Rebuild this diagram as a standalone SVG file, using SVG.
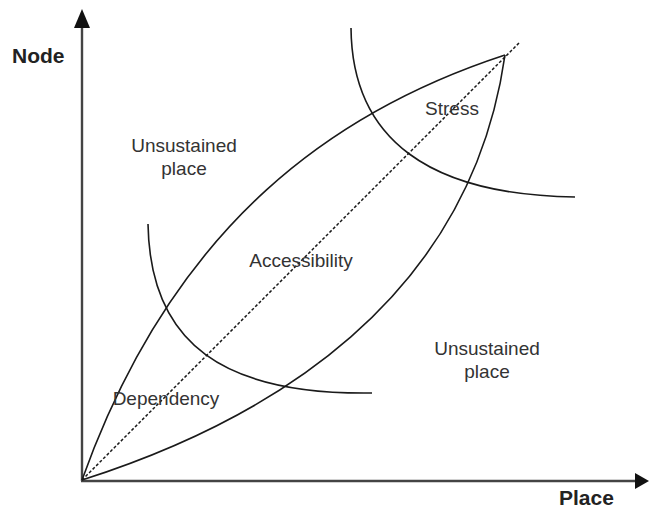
<svg xmlns="http://www.w3.org/2000/svg" width="649" height="511" viewBox="0 0 649 511">
  <style>
    .curve { fill: none; stroke: #1a1a1a; stroke-width: 1.6; }
    .dash { fill: none; stroke: #1a1a1a; stroke-width: 1.5; stroke-dasharray: 3 2; }
    .axis { fill: none; stroke: #444; stroke-width: 2.4; }
    .head { fill: #111; }
    .lbl { font-family: "Liberation Sans", Arial, sans-serif; font-size: 19px; fill: #333; text-anchor: middle; }
    .ax { font-family: "Liberation Sans", Arial, sans-serif; font-size: 21px; font-weight: bold; fill: #222; }
  </style>
  <rect width="649" height="511" fill="#fff"/>
  <g id="axes">
    <line class="axis" x1="82" y1="481" x2="82" y2="26"/>
    <polygon class="head" points="82,9 74,28 90,28"/>
    <line class="axis" x1="81" y1="481" x2="637" y2="481"/>
    <polygon class="head" points="649,481 635,473 635,489"/>
    <text class="ax" x="12" y="63">Node</text>
    <text class="ax" x="559" y="505">Place</text>
  </g>
  <g id="connectors">
    <line class="dash" x1="82" y1="480" x2="520" y2="42"/>
    <path id="lens-upper" class="curve" d="M82,480 C175,219 340,109 505,55"/>
    <path id="lens-lower" class="curve" d="M82,480 C270,420 470,300 505,55"/>
    <path id="stress-arc" class="curve" d="M351,28 C352,140 430,195 575,197"/>
    <path id="dependency-arc" class="curve" d="M148,224 C150,345 225,395 372,393"/>
  </g>
  <g id="unsustained-upper">
    <text class="lbl" x="184" y="152">Unsustained</text>
    <text class="lbl" x="184" y="175">place</text>
  </g>
  <g id="stress">
    <text class="lbl" x="452" y="115">Stress</text>
  </g>
  <g id="accessibility">
    <text class="lbl" x="301" y="267">Accessibility</text>
  </g>
  <g id="dependency">
    <text class="lbl" x="166" y="405">Dependency</text>
  </g>
  <g id="unsustained-lower">
    <text class="lbl" x="487" y="355">Unsustained</text>
    <text class="lbl" x="487" y="378">place</text>
  </g>
</svg>
